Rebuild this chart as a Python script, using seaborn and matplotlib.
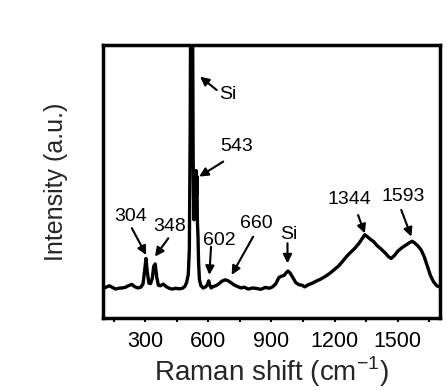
import matplotlib
matplotlib.use('Agg')
import matplotlib.pyplot as plt
import seaborn as sns
from matplotlib.ticker import MultipleLocator

# спектр (см-1, усл. ед.)
shift = [100, 115, 130, 145, 160, 175, 190, 205, 220, 237, 250, 265, 280, 290, 298,
         304, 310, 318, 326, 334, 341, 348, 355, 363, 372, 386, 400, 417, 430, 445,
         460, 475, 488, 497, 505, 510, 514, 517, 521, 525, 528, 530, 532, 534, 536,
         538, 540, 542, 544, 546, 548, 551, 554, 558, 565, 575, 585, 592, 597, 602,
         607, 614, 622, 635, 650, 665, 680, 695, 710, 725, 740, 755, 770, 790, 810,
         830, 850, 870, 890, 905, 920, 935, 947, 960, 970, 978, 988, 1000, 1015, 1030,
         1045, 1058, 1075, 1095, 1115, 1135, 1155, 1176, 1195, 1215, 1235, 1255, 1275,
         1295, 1315, 1330, 1343, 1355, 1370, 1385, 1400, 1420, 1440, 1455, 1468, 1485,
         1500, 1520, 1540, 1555, 1568, 1580, 1595, 1610, 1625, 1641, 1655, 1670, 1685,
         1700]
intensity = [10.8, 11.3, 11.8, 11.2, 10.6, 10.9, 11.0, 11.2, 11.8, 12.3, 11.5, 11.0, 11.3, 12.5, 17.5,
             21.8, 17.0, 12.8, 12.6, 14.5, 19.0, 19.8, 15.0, 12.0, 11.8, 12.4, 11.5, 10.8, 10.6, 10.9,
             10.7, 10.8, 11.5, 13.0, 16.0, 25.0, 70.0, 130.0, 140.0, 120.0, 60.0, 45.0, 36.0, 50.0, 38.0,
             52.0, 40.0, 54.0, 45.0, 52.0, 36.0, 30.0, 20.0, 14.0, 11.8, 11.0, 11.3, 11.8, 12.5, 13.6,
             12.0, 11.0, 11.5, 11.8, 12.5, 13.5, 14.0, 13.6, 12.8, 12.0, 11.5, 11.0, 11.3, 10.6, 11.0,
             10.8, 10.5, 11.2, 10.9, 11.4, 12.5, 14.8, 15.3, 15.6, 16.6, 17.2, 16.5, 15.0, 13.0, 12.2,
             12.0, 11.4, 12.2, 12.8, 13.6, 14.3, 15.2, 16.3, 17.5, 18.8, 20.5, 22.4, 24.0,
             25.5, 27.3, 29.0, 30.5, 29.8, 28.8, 28.0, 26.6, 25.3, 23.8, 22.5, 21.8, 23.0,
             24.5, 25.8, 26.8, 27.6, 28.1, 27.5, 26.4, 25.0, 22.5, 18.8, 15.5, 13.2, 11.8,
             11.3]

# подписи пиков: текст, позиция текста, начало стрелки, конец стрелки
labels = ['Si', '543', '304', '348', '602', '660', 'Si', '1344', '1593']
text_xy = [(693, 82), (735, 63), (229, 37), (418, 33.5), (652, 28.5), (829, 34.5),
           (984, 30.5), (1271, 43.5), (1524, 44.5)]
arrow_from = [(640, 83.5), (671, 57.3), (237, 32.9), (410, 29.2), (613, 26.1), (813, 29.8),
              (976, 27.4), (1311, 37.7), (1516, 39.6)]
arrow_to = [(561, 88.4), (557, 51.8), (305, 23.1), (347, 22.5), (605, 15.8), (711, 15.8),
            (976, 20.0), (1343, 31.0), (1564, 29.8)]

sns.set_style('ticks')
plt.rcParams['font.family'] = ['Liberation Sans', 'DejaVu Sans']

fig = plt.figure(figsize=(4.47, 3.91), dpi=100)
ax = fig.add_axes([0.2304, 0.1867, 0.7539, 0.6982])

sns.lineplot(x=shift, y=intensity, ax=ax, color='black', lw=2.4)

for lab, t, a0, a1 in zip(labels, text_xy, arrow_from, arrow_to):
    ax.text(t[0], t[1], lab, ha='center', va='center', fontsize=14, color='black')
    ax.annotate('', xy=a1, xytext=a0,
                arrowprops=dict(arrowstyle='-|>', color='black', lw=1.5,
                                mutation_scale=13, shrinkA=0, shrinkB=0))

ax.set_xlim(100, 1700)
ax.set_ylim(0, 100)
ax.xaxis.set_major_locator(MultipleLocator(300))
ax.xaxis.set_minor_locator(MultipleLocator(150))
ax.set_yticks([])
ax.tick_params(axis='x', which='both', direction='out', length=3, width=1.5,
               labelsize=15.5, colors='black', pad=6)
for s in ax.spines.values():
    s.set_visible(True)
    s.set_linewidth(2.5)
    s.set_color('black')

ax.set_xlabel('Raman shift (cm$^{\\mathregular{-1}}$)', fontsize=20, labelpad=2)
ax.set_ylabel('Intensity (a.u.)', fontsize=18, labelpad=25)

fig.savefig('out.png', dpi=100)
